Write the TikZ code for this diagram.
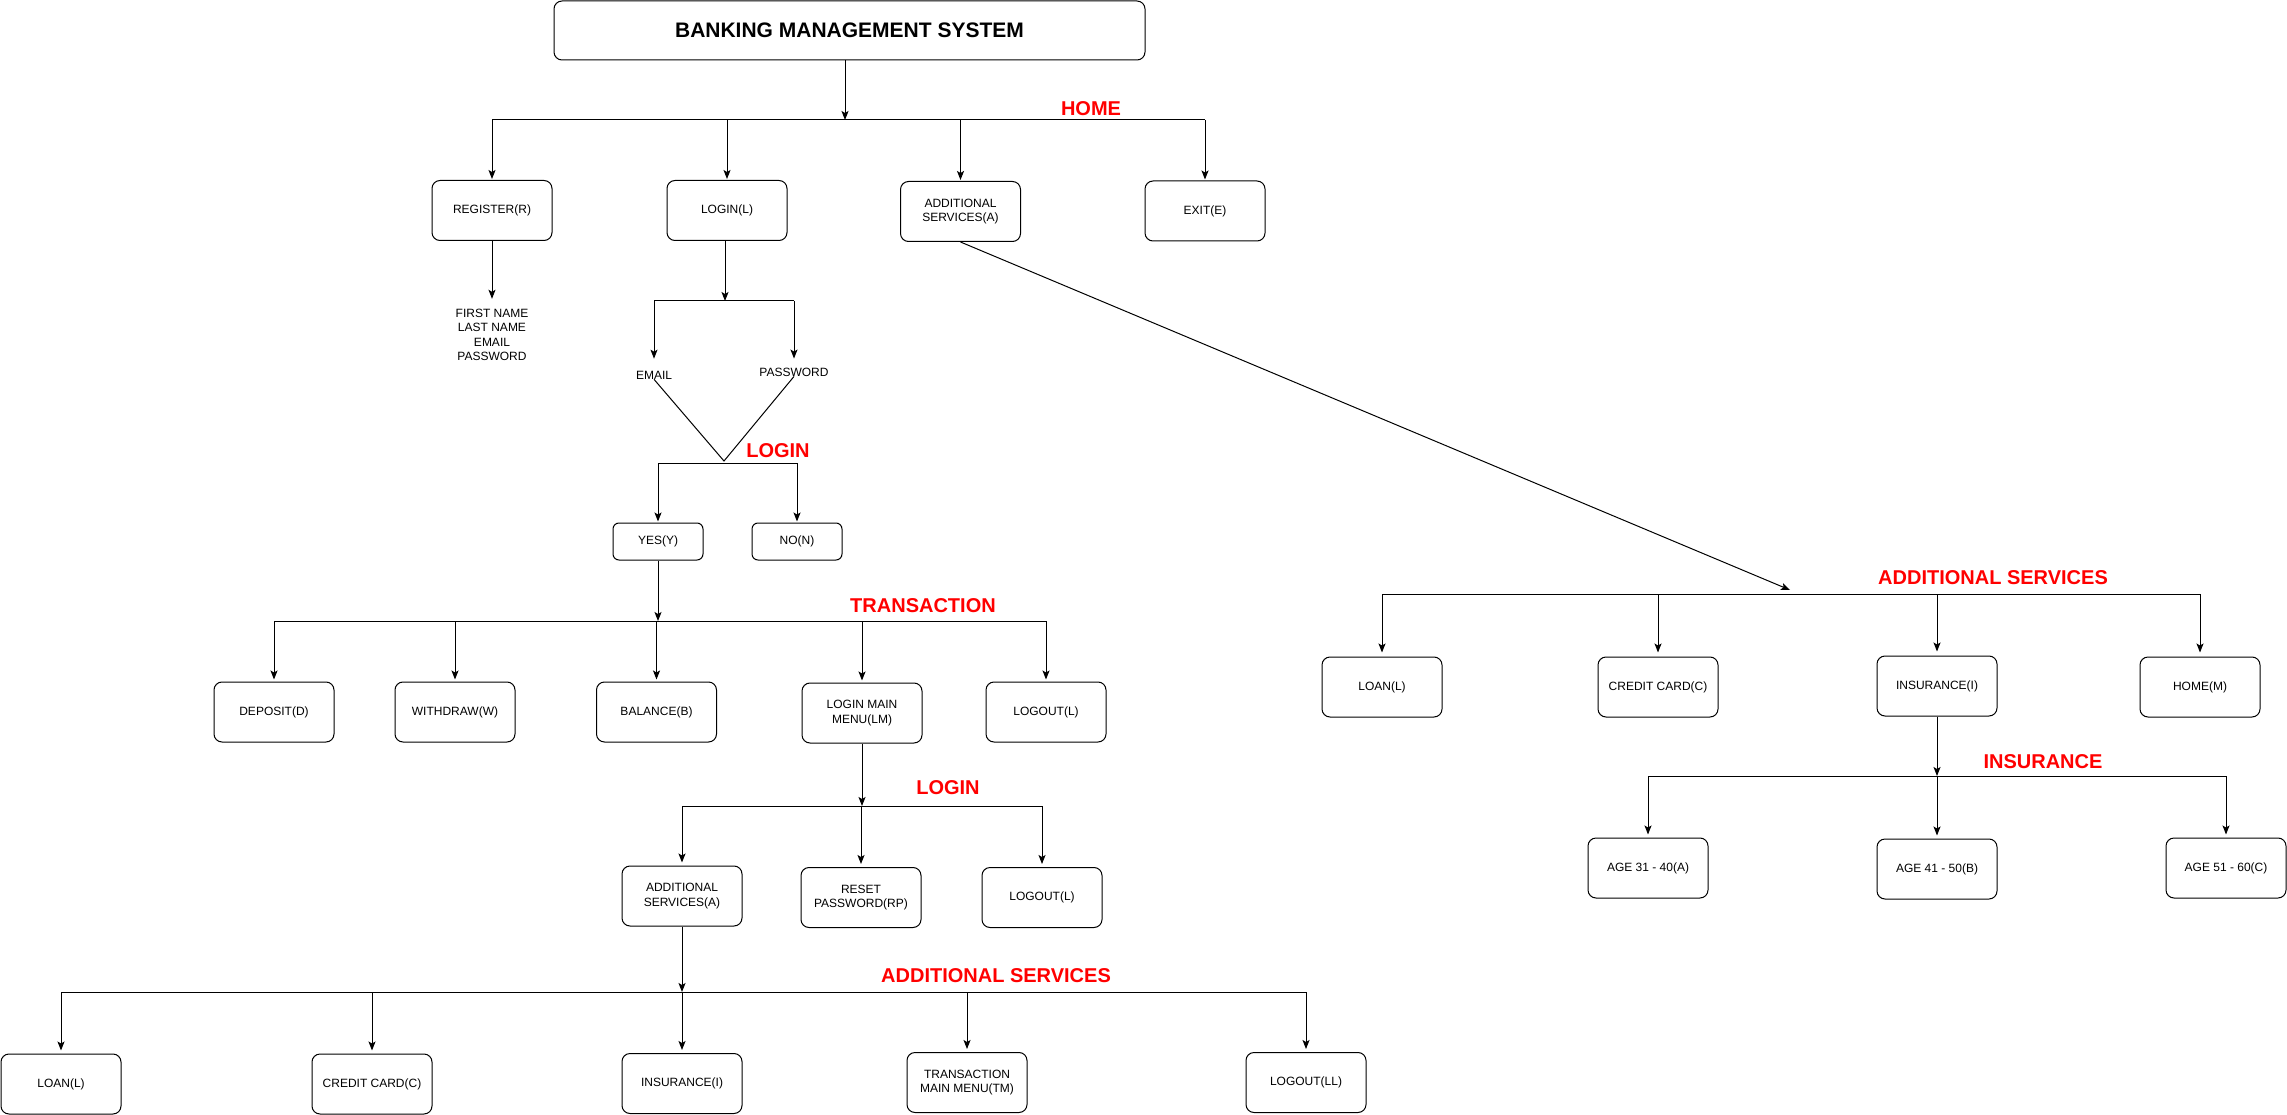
\documentclass[tikz,border=0pt]{standalone}
\usepackage{fontspec}
\setmainfont{Liberation Sans}
\usetikzlibrary{arrows.meta}
\definecolor{hdred}{RGB}{255,0,0}
\begin{document}
\begin{tikzpicture}[x=1pt,y=-1pt,
  every node/.style={font=\fontsize{12}{14.5}\selectfont, align=center},
  box/.style={draw, rounded corners=8pt, line width=1pt, minimum width=120pt, minimum height=60pt, inner sep=2pt},
  smallbox/.style={box, minimum width=90pt, minimum height=37pt, rounded corners=6pt},
  txt/.style={inner sep=0pt},
  heading/.style={text=hdred, font=\fontsize{20}{24}\selectfont\bfseries, inner sep=0pt},
  wire/.style={line width=1pt},
  arr/.style={wire, -{Stealth[length=9pt,width=7pt,inset=2pt]}},
]
\useasboundingbox (0,0) rectangle (2287,1115);

% ---------- top level ----------
\node[box, minimum width=591pt, minimum height=59pt, font=\fontsize{21}{25}\selectfont\bfseries] (title) at (849.5,30.5) {BANKING MANAGEMENT SYSTEM};

\node[box] (reg)   at (492,210.5)  {REGISTER(R)};
\node[box] (login) at (727,210.5)  {LOGIN(L)};
\node[box] (addA)  at (960.5,211.5) {ADDITIONAL\\SERVICES(A)};
\node[box] (exit)  at (1205,211)   {EXIT(E)};

\coordinate (homeJ) at (845,120);
\coordinate (homeL) at (492,120);
\coordinate (homeR) at (1205,120);
\node[heading] (hHome) at (1091,109) {HOME};

\draw[arr] (title.south -| homeJ) -- (homeJ);
\draw[wire] (homeL) -- (homeR);
\foreach \n in {reg,login,addA,exit}
  \draw[arr, shorten >=1pt] (\n.north |- homeL) -- (\n.north);

% ---------- register ----------
\node[txt] (regfields) at (492,335) {FIRST NAME\\LAST NAME\\EMAIL\\PASSWORD};
\draw[arr, shorten >=10pt] (reg.south) -- (reg.south |- regfields.north);

% ---------- login ----------
\coordinate (lgJ) at (725,301);
\coordinate (lgL) at (654,301);
\coordinate (lgR) at (794,301);
\node[txt] (email) at (654,375) {EMAIL};
\node[txt] (pass)  at (794,372) {PASSWORD};
\draw[arr] (login.south -| lgJ) -- (lgJ);
\draw[wire] (lgL) -- (lgR);
\draw[arr, shorten >=12pt] (lgL) -- (email.north);
\draw[arr, shorten >=9pt] (lgR) -- (pass.north);

\coordinate (vtx) at (724,461);
\draw[wire] (email.south) -- (vtx) -- (pass.south);

\node[smallbox] (yes) at (658,541.5) {YES(Y)};
\node[smallbox] (no)  at (797,541.5) {NO(N)};
\coordinate (ynL) at (658,463);
\coordinate (ynR) at (797,463);
\draw[wire] (ynL) -- (ynR);
\draw[arr, shorten >=1pt] (yes.north |- ynL) -- (yes.north);
\draw[arr, shorten >=1pt] (no.north |- ynL) -- (no.north);
\node[heading] (hLogin1) at (778,451) {LOGIN};

% ---------- transaction ----------
\node[box] (deposit)  at (274,712)   {DEPOSIT(D)};
\node[box] (withdraw) at (455,712)   {WITHDRAW(W)};
\node[box] (balance)  at (656.5,712) {BALANCE(B)};
\node[box] (lmm)      at (862,713)   {LOGIN MAIN\\MENU(LM)};
\node[box] (logout1)  at (1046,712)  {LOGOUT(L)};

\coordinate (trJ) at (658,621);
\coordinate (trL) at (274,621);
\coordinate (trR) at (1046,621);
\draw[arr] (yes.south -| trJ) -- (trJ);
\draw[wire] (trL) -- (trR);
\foreach \n in {deposit,withdraw,balance,lmm,logout1}
  \draw[arr, shorten >=2pt] (\n.north |- trL) -- (\n.north);
\node[heading] (hTrans) at (923,606) {TRANSACTION};

% ---------- login main menu ----------
\node[box] (addB)    at (682,896)    {ADDITIONAL\\SERVICES(A)};
\node[box] (reset)   at (861,897.5)  {RESET\\PASSWORD(RP)};
\node[box] (logout2) at (1042,897.5) {LOGOUT(L)};

\coordinate (lmJ) at (862,806);
\coordinate (lmL) at (682,806);
\coordinate (lmR) at (1042,806);
\draw[arr] (lmm.south) -- (lmJ);
\draw[wire] (lmL) -- (lmR);
\foreach \n in {addB,reset,logout2}
  \draw[arr, shorten >=3pt] (\n.north |- lmL) -- (\n.north);
\node[heading] (hLogin2) at (948,788) {LOGIN};

% ---------- additional services (from login) ----------
\node[box] (loan1)    at (61,1084)    {LOAN(L)};
\node[box] (cc1)      at (372,1084)   {CREDIT CARD(C)};
\node[box] (ins1)     at (682,1083.5) {INSURANCE(I)};
\node[box] (tmm)      at (967,1082.5) {TRANSACTION\\MAIN MENU(TM)};
\node[box] (logoutLL) at (1306,1082.5) {LOGOUT(LL)};

\coordinate (asJ) at (682,992);
\coordinate (asL) at (61,992);
\coordinate (asR) at (1306,992);
\draw[arr] (addB.south -| asJ) -- (asJ);
\draw[wire] (asL) -- (asR);
\foreach \n in {loan1,cc1,ins1,tmm,logoutLL}
  \draw[arr, shorten >=3pt] (\n.north |- asL) -- (\n.north);
\node[heading] (hAdd1) at (996,976) {ADDITIONAL SERVICES};

% ---------- additional services (from home) ----------
\node[box] (loan2) at (1382,687) {LOAN(L)};
\node[box] (cc2)   at (1658,687) {CREDIT CARD(C)};
\node[box] (ins2)  at (1937,686) {INSURANCE(I)};
\node[box] (home)  at (2200,687) {HOME(M)};

\coordinate (hsJ) at (1790,590);
\coordinate (hsL) at (1382,594);
\coordinate (hsR) at (2200,594);
\draw[arr] (addA.south) -- (hsJ);
\draw[wire] (hsL) -- (hsR);
\foreach \n in {loan2,cc2,ins2,home}
  \draw[arr, shorten >=4pt] (\n.north |- hsL) -- (\n.north);
\node[heading] (hAdd2) at (1993,578) {ADDITIONAL SERVICES};

% ---------- insurance ----------
\node[box] (age1) at (1648,868) {AGE 31 - 40(A)};
\node[box] (age2) at (1937,869) {AGE 41 - 50(B)};
\node[box] (age3) at (2226,868) {AGE 51 - 60(C)};

\coordinate (inJ) at (1937,776);
\coordinate (inL) at (1648,776);
\coordinate (inR) at (2226,776);
\draw[arr] (ins2.south) -- (inJ);
\draw[wire] (inL) -- (inR);
\foreach \n in {age1,age2,age3}
  \draw[arr, shorten >=3pt] (\n.north |- inL) -- (\n.north);
\node[heading] (hIns) at (2043,762) {INSURANCE};

\end{tikzpicture}
\end{document}
